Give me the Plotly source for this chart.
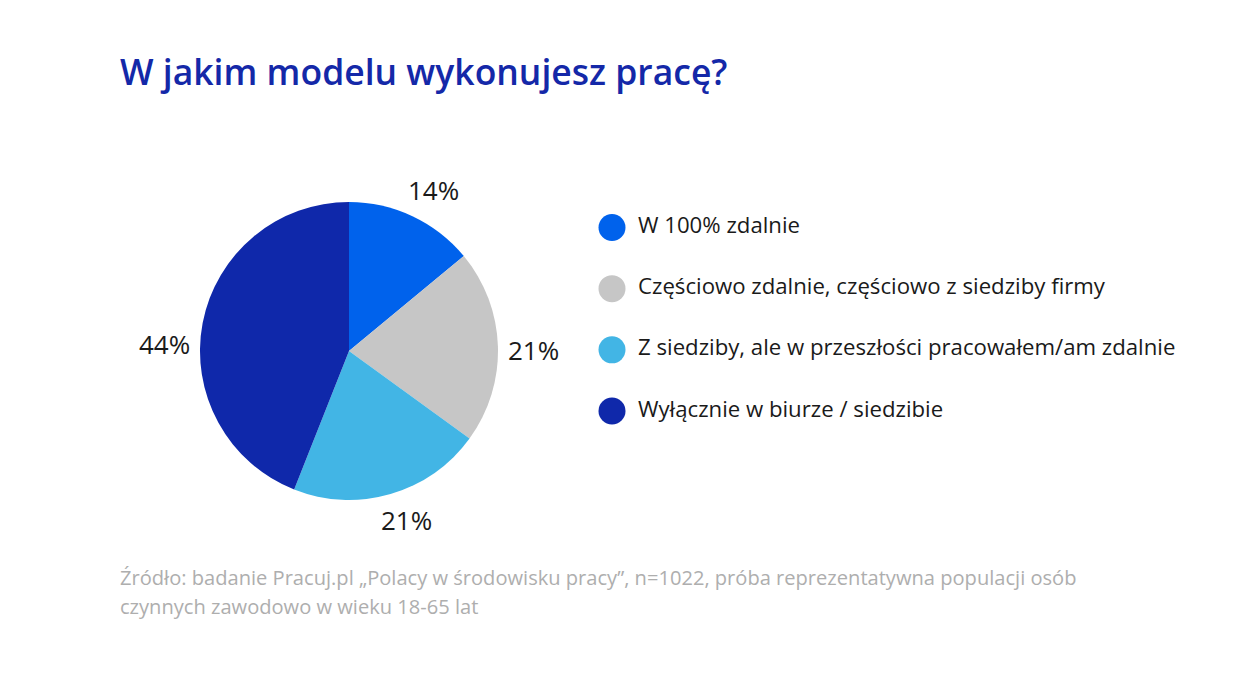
import math
import plotly.graph_objects as go

categories = [
    "W 100% zdalnie",
    "Częściowo zdalnie, częściowo z siedziby firmy",
    "Z siedziby, ale w przeszłości pracowałem/am zdalnie",
    "Wyłącznie w biurze / siedzibie",
]
values = [14, 21, 21, 44]
colors = ["#0062EC", "#C6C6C6", "#42B5E5", "#0F28AA"]

title_text = "W jakim modelu wykonujesz pracę?"
source_lines = [
    "Źródło: badanie Pracuj.pl „Polacy w środowisku pracy”, n=1022, próba reprezentatywna populacji osób",
    "czynnych zawodowo w wieku 18-65 lat",
]

# ---- layout / style settings ----
W, H = 1240, 675
cx, cy, r = 349, 351, 149
label_font = 26
label_gap = 10
label_angle_adjust = [2.4, 1.5, -2.6, -8.6]  # small nudges of outside labels (deg)
label_w, label_h = 51, 25

fig = go.Figure()
fig.add_trace(go.Pie(
    labels=categories,
    values=values,
    marker=dict(colors=colors, line=dict(width=0)),
    sort=False,
    direction="clockwise",
    rotation=0,
    textinfo="none",
    showlegend=False,
    hoverinfo="label+value",
    domain=dict(x=[(cx - r) / W, (cx + r) / W], y=[(H - cy - r) / H, (H - cy + r) / H]),
))

annotations = []
total = sum(values)
cum = 0
for v, adj in zip(values, label_angle_adjust):
    mid = (cum + v / 2) / total * 360 + adj
    cum += v
    s, c = math.sin(math.radians(mid)), math.cos(math.radians(mid))
    dist = r + label_gap + abs(s) * label_w / 2 + abs(c) * label_h / 2
    px = cx + dist * s
    py = cy - dist * c
    annotations.append(dict(
        text=f"{v}%", x=px / W, y=1 - py / H, xref="paper", yref="paper",
        xanchor="center", yanchor="middle", showarrow=False,
        font=dict(family="Open Sans", size=label_font, color="#1a1a1a")))

# custom legend with circle markers
idx = list(range(len(categories)))
fig.add_trace(go.Scatter(
    x=[0] * len(categories), y=idx, mode="markers",
    marker=dict(color=colors, size=27, symbol="circle"),
    showlegend=False, hoverinfo="skip", cliponaxis=False,
))
fig.add_trace(go.Scatter(
    x=[26] * len(categories), y=idx, mode="text",
    text=categories, textposition="middle right",
    textfont=dict(family="Open Sans", size=22.2, color="#1a1a1a"),
    showlegend=False, hoverinfo="skip", cliponaxis=False,
))

row0, row3 = 227.5, 411
k = (row3 - row0) / 3
rt = -row0 / k
rb = rt + H / k
x0 = 612

annotations += [
    dict(text=title_text, x=118 / W, y=1 - 71 / H, xref="paper", yref="paper",
         xanchor="left", yanchor="middle", showarrow=False,
         font=dict(family="Open Sans", size=35.5, color="#1428A8", weight=600)),
    dict(text=source_lines[0], x=118 / W, y=1 - 577 / H, xref="paper", yref="paper",
         xanchor="left", yanchor="middle", showarrow=False, align="left",
         font=dict(family="Open Sans", size=20.1, color="#AEAEAE")),
    dict(text=source_lines[1], x=118 / W, y=1 - 606 / H, xref="paper", yref="paper",
         xanchor="left", yanchor="middle", showarrow=False, align="left",
         font=dict(family="Open Sans", size=20.1, color="#AEAEAE")),
]

fig.update_layout(
    width=W, height=H,
    margin=dict(l=0, r=0, t=0, b=0),
    paper_bgcolor="white", plot_bgcolor="rgba(0,0,0,0)",
    xaxis=dict(visible=False, range=[-x0, W - x0], domain=[0, 1], fixedrange=True),
    yaxis=dict(visible=False, range=[rb, rt], domain=[0, 1], fixedrange=True),
    annotations=annotations,
)

fig.write_html("out.html")
